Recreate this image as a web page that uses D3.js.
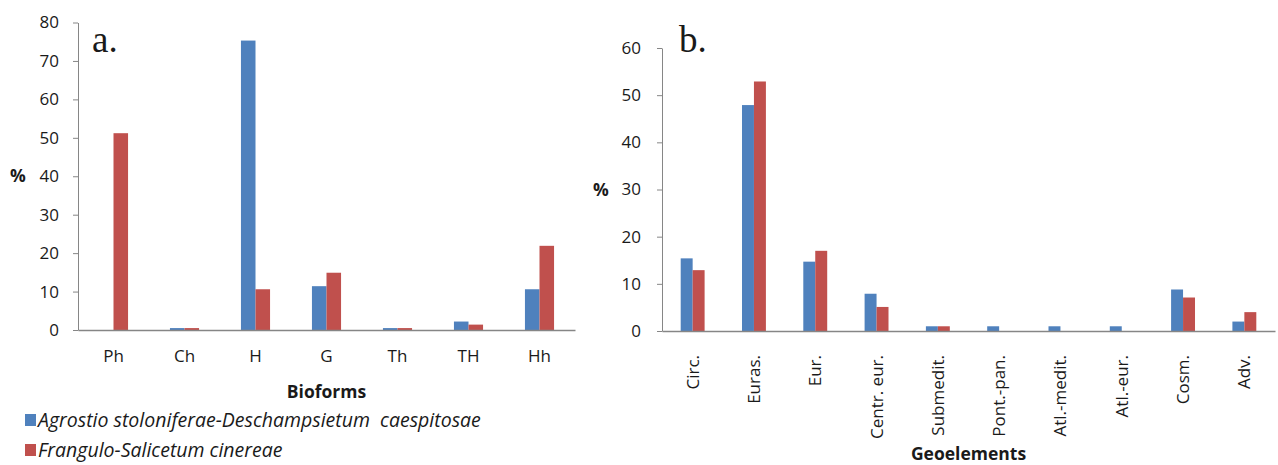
<!DOCTYPE html>
<html>
<head>
<meta charset="utf-8">
<script src="https://cdn.jsdelivr.net/npm/d3@7"></script>
<style>
  body { margin: 0; background: #fff; }
  svg text { font-family: "Open Sans", "Liberation Sans", sans-serif; fill: #1a1a1a; }
  .axis path, .axis line { stroke: #868686; }
  .axis text { font-size: 17px; }
  .panel { font-family: "Liberation Serif", serif !important; font-size: 37px; }
  .title { font-weight: bold; font-size: 17.5px; }
  .legend { font-style: italic; font-size: 19.5px; white-space: pre; }
</style>
</head>
<body>
<script>
// series names
var seriesNames = [
  "Agrostio stoloniferae-Deschampsietum  caespitosae",
  "Frangulo-Salicetum cinereae"
];
var colors = ["#4f81bd", "#c0504d"];

// a. bioforms
var bioforms = ["Ph", "Ch", "H", "G", "Th", "TH", "Hh"];
var bioAgrostio = [0, 0.5, 75.3, 11.4, 0.5, 2.2, 10.6];
var bioFrangulo = [51.2, 0.5, 10.6, 14.9, 0.5, 1.4, 21.9];
var bioTicks = [0, 10, 20, 30, 40, 50, 60, 70, 80];

// b. geoelements
var geoelements = ["Circ.", "Euras.", "Eur.", "Centr. eur.", "Submedit.", "Pont.-pan.", "Atl.-medit.", "Atl.-eur.", "Cosm.", "Adv."];
var geoAgrostio = [15.4, 47.9, 14.7, 7.9, 1, 1, 1, 1, 8.8, 2];
var geoFrangulo = [12.9, 52.9, 17, 5.1, 1, 0, 0, 0, 7.1, 4];
var geoTicks = [0, 10, 20, 30, 40, 50, 60];

var svg = d3.select("body").append("svg").attr("width", 1278).attr("height", 465);

function drawChart(opt) {
  var x0 = d3.scaleBand().domain(opt.cats).range(opt.xRange)
    .paddingInner(opt.pad).paddingOuter(opt.pad / 2);
  var x1 = d3.scaleBand().domain([0, 1]).range([0, x0.bandwidth()]);
  var y = d3.scaleLinear().domain([0, d3.max(opt.ticks)]).range(opt.yRange);

  var g = svg.append("g");

  var rows = opt.cats.map((c, i) => ({ cat: c, vals: [opt.s1[i], opt.s2[i]] }));
  g.selectAll("g.cat")
    .data(rows)
    .enter()
    .append("g")
    .attr("transform", (d) => "translate(" + x0(d.cat) + ",0)")
    .selectAll("rect")
    .data((d) => d.vals)
    .enter()
    .append("rect")
    .attr("x", (d, i) => x1(i))
    .attr("width", x1.bandwidth())
    .attr("y", (d) => y(d))
    .attr("height", (d) => y(0) - y(d))
    .attr("fill", (d, i) => colors[i]);

  g.append("g")
    .attr("class", "axis")
    .attr("transform", "translate(" + opt.xRange[0] + ",0)")
    .call(d3.axisLeft(y).tickValues(opt.ticks).tickSize(5).tickSizeOuter(0).tickPadding(opt.yPad));

  var xa = g.append("g")
    .attr("class", "axis")
    .attr("transform", "translate(0," + y(0) + ")")
    .call(d3.axisBottom(x0).tickSize(0).tickPadding(opt.xPad));
  xa.selectAll(".domain").attr("stroke-width", 1.5);

  if (opt.rotate) {
    xa.selectAll("text")
      .attr("transform", "rotate(-90)")
      .attr("x", -24)
      .attr("y", 0)
      .attr("dy", "0.35em")
      .style("text-anchor", "end");
  }

  g.append("text").attr("class", "title")
    .attr("x", (opt.xRange[0] + opt.xRange[1]) / 2)
    .attr("y", opt.titleY)
    .attr("text-anchor", "middle")
    .text(opt.title);

  g.append("text").attr("class", "title")
    .attr("x", opt.pctX)
    .attr("y", y(opt.pctAt))
    .attr("dy", "0.35em")
    .attr("text-anchor", "middle")
    .text("%");

  g.append("text").attr("class", "panel")
    .attr("x", opt.panelX)
    .attr("y", opt.panelY)
    .text(opt.panel);
}

drawChart({
  cats: bioforms, s1: bioAgrostio, s2: bioFrangulo, ticks: bioTicks,
  xRange: [78, 575], yRange: [330, 22.5], pad: 0.59,
  yPad: 14, xPad: 20, rotate: false,
  title: "Bioforms", titleY: 398, pctX: 18, pctAt: 40,
  panel: "a.", panelX: 92, panelY: 52
});

drawChart({
  cats: geoelements, s1: geoAgrostio, s2: geoFrangulo, ticks: geoTicks,
  xRange: [662, 1275], yRange: [331, 48], pad: 0.61,
  yPad: 16, xPad: 0, rotate: true,
  title: "Geoelements", titleY: 460, pctX: 601, pctAt: 30,
  panel: "b.", panelX: 679, panelY: 52
});

// legend
var legend = svg.append("g");
seriesNames.forEach((name, i) => {
  var ly = 420 + i * 30;
  legend.append("rect").attr("x", 25).attr("y", ly - 6).attr("width", 11).attr("height", 12).attr("fill", colors[i]);
  legend.append("text").attr("class", "legend").attr("x", 38).attr("y", ly).attr("dy", "0.35em").text(name);
});
</script>
</body>
</html>
